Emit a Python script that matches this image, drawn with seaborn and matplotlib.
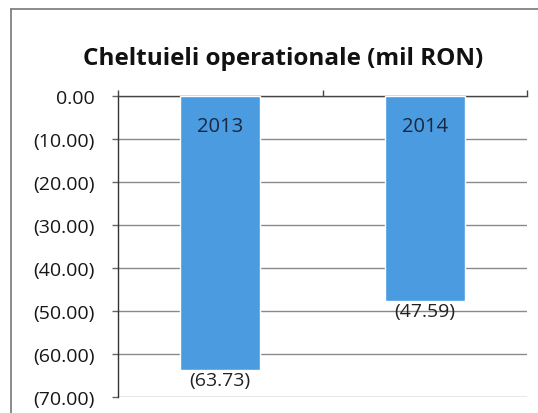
import matplotlib
matplotlib.use("Agg")
import matplotlib.pyplot as plt
import seaborn as sns
import pandas as pd
from matplotlib.lines import Line2D
from matplotlib.ticker import FuncFormatter

categories = ["2013", "2014"]
values = [-63.73, -47.59]
y_ticks = [0, -10, -20, -30, -40, -50, -60, -70]
title = "Cheltuieli operationale (mil RON)"

sns.set_theme(style="white")
plt.rcParams['font.family'] = ['Open Sans', 'DejaVu Sans']

df = pd.DataFrame({"year": categories, "value": values})

fig = plt.figure(figsize=(5.38, 4.14), dpi=100)
ax = fig.add_axes([118/538, 1 - 398/414, (527-118)/538, (398-97)/414])

sns.barplot(data=df, x="year", y="value", color="#4a9be0", saturation=1,
            width=0.39, ax=ax, zorder=3)

ax.set_ylim(-70, 0)
ax.set_xlim(-0.5, 1.5)
ax.set_yticks(y_ticks)

def fmt(v, pos):
    if v == 0:
        return "0.00"
    return "({:.2f})".format(abs(v))

ax.yaxis.set_major_formatter(FuncFormatter(fmt))
ax.tick_params(axis="y", labelsize=14, length=4.5, width=1, color="#666666",
               left=True, pad=12, labelcolor="#161616")
ax.yaxis.grid(True, color="#8a8a8a", linewidth=1, zorder=0)
ax.set_axisbelow(True)

ax.xaxis.tick_top()
ax.set_xticks([-0.5, 0.5, 1.5])
ax.set_xticklabels([])
ax.tick_params(axis="x", length=4, width=1, color="#444444", top=True, bottom=False)

for s in ["right", "bottom"]:
    ax.spines[s].set_visible(False)
ax.spines["left"].set_color("#333333")
ax.spines["left"].set_linewidth(1)
ax.spines["top"].set_color("#444444")
ax.spines["top"].set_linewidth(1)
ax.set_xlabel("")
ax.set_ylabel("")

for i, (c, v) in enumerate(zip(categories, values)):
    ax.text(i, -7, c, ha="center", va="center", fontsize=14.5, color="#1a2740", zorder=4)

for cont in ax.containers:
    ax.bar_label(cont, labels=["({:.2f})".format(abs(v)) for v in values],
                 padding=1, fontsize=14, color="#222222", zorder=4)

fig.text(283/538, 1 - 65/414, title, ha="center", va="baseline",
         fontsize=17.5, fontweight="bold", color="#111111")

fig.add_artist(Line2D([11/538, 1], [1 - 10/414, 1 - 10/414], color="#777777", linewidth=1.2))
fig.add_artist(Line2D([11/538, 11/538], [0, 1 - 10/414], color="#777777", linewidth=1.2))

fig.savefig("out.png", dpi=100)
